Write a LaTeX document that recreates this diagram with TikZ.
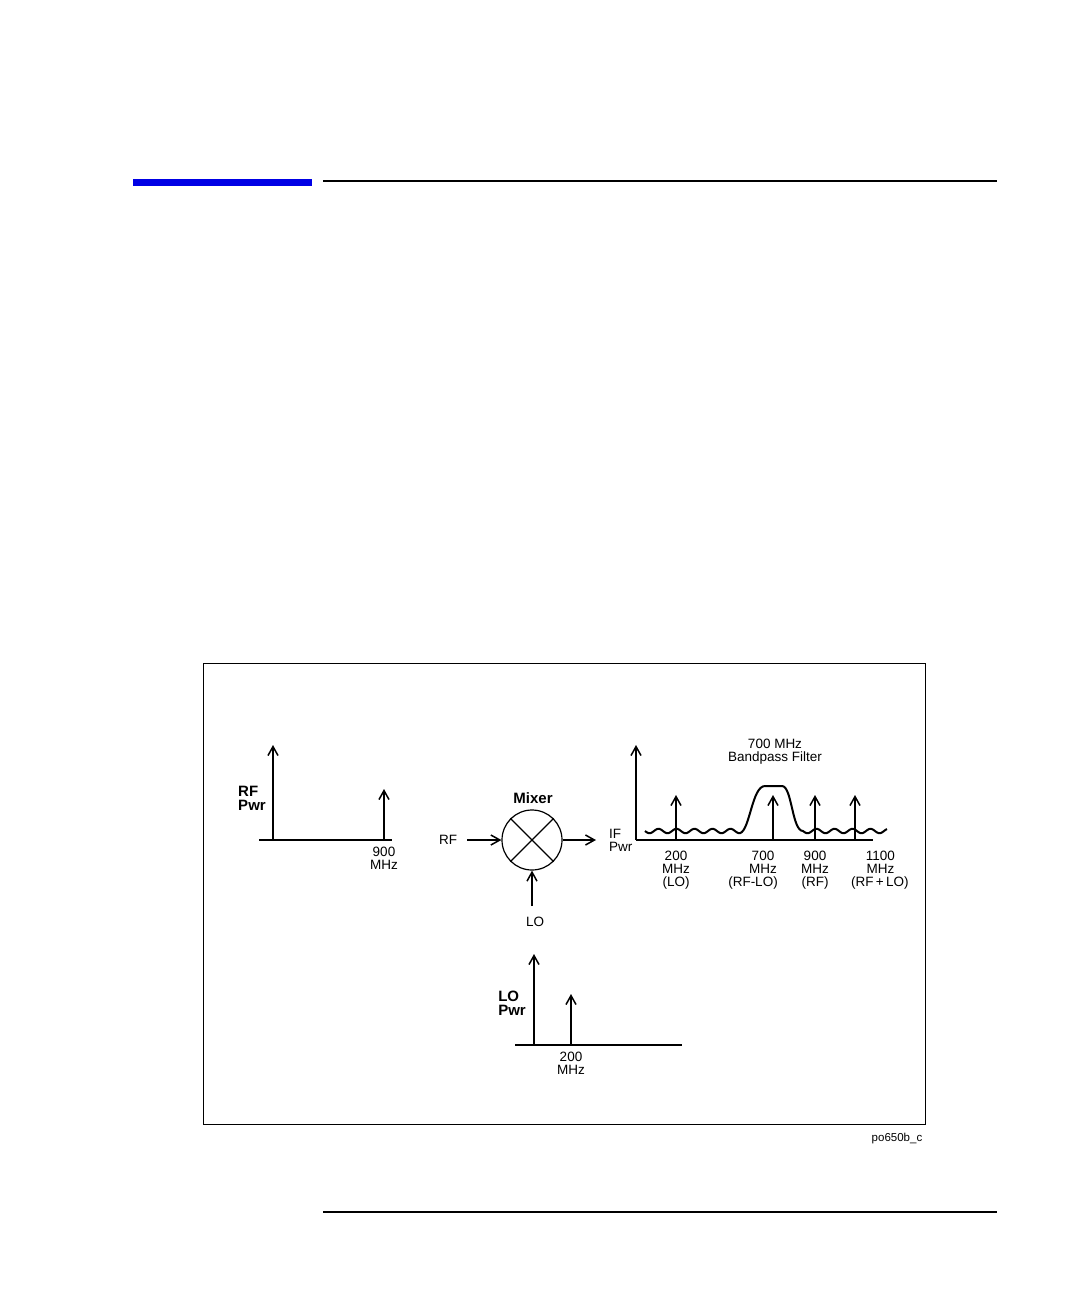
\documentclass[tikz,border=0pt]{standalone}
\usepackage{fontspec}
\setmainfont{Liberation Sans}
\usetikzlibrary{arrows.meta}
\begin{document}
\begin{tikzpicture}[x=1pt,y=-1pt,
  lbl/.style={font=\fontsize{13.5}{13}\selectfont,align=center,inner sep=0pt},
  blbl/.style={font=\fontsize{15}{14}\selectfont\bfseries,align=left,inner sep=0pt},
  ar/.style={line width=1.2pt,-{Straight Barb[length=9pt,width=10pt,line width=1.5pt]}},
  ln/.style={line width=1.2pt}]
\useasboundingbox (0,0) rectangle (1080,1296);
\fill[white] (0,0) rectangle (1080,1296);
\fill[blue!90!black] (133,179) rectangle (312,186);
\draw[line width=1.6pt] (323,181) -- (997,181);
\draw[line width=1.2pt] (323,1212) -- (997,1212);
\draw[line width=0.8pt] (203,663) rectangle (925,1124);
\node[lbl,font=\fontsize{11.5}{11}\selectfont] (code) at (897,1139) {po650b\_c};
% RF plot
\coordinate (ra0) at (273,840); \coordinate (ra1) at (273,745);
\draw[ar] (ra0) -- (ra1);
\coordinate (rb0) at (259,840); \coordinate (rb1) at (392,840);
\draw[ln] (rb0) -- (rb1);
\coordinate (rs0) at (384,840); \coordinate (rs1) at (384,789);
\draw[ar] (rs0) -- (rs1);
\node[blbl] (rfpwr) at (252,798) {RF\\Pwr};
\node[lbl] (f900) at (384,858) {900\\MHz};
% mixer
\node[draw,circle,line width=1.2pt,minimum size=60pt,inner sep=0pt] (mix) at (532,840) {};
\draw[ln] (mix.45) -- (mix.225) (mix.135) -- (mix.315);
\node[blbl] (mixl) at (533,798) {Mixer};
\node[lbl] (rfl) at (448,840) {RF};
\coordinate (rfin) at (467,840);
\draw[ar] (rfin) -- (mix.west);
\coordinate (ifout) at (596,840);
\draw[ar] (mix.east) -- (ifout);
\node[lbl] (lol) at (535,922) {LO};
\coordinate (loin) at (532,906);
\draw[ar] (loin) -- (mix.south);
% IF plot
\coordinate (ia0) at (636,840); \coordinate (ia1) at (636,745);
\draw[ar] (ia0) -- (ia1);
\draw[ln] (636,840) -- (873,840);
\draw[line width=2pt,line join=round]
  plot[domain=645:740,samples=80,smooth] (\x,{831+2.2*sin((\x-645)*20)})
  .. controls (750,830) and (752,786) .. (765,786) -- (782,786) .. controls (792,786) and (792,831) .. (803,831)
  -- plot[domain=803:887,samples=70,smooth] (\x,{831+2.2*sin((\x-803)*20)});
\foreach \x/\n in {676/a,773/b,815/c,855/d} {
  \coordinate (s\n0) at (\x,840); \coordinate (s\n1) at (\x,795);
  \draw[ar] (s\n0) -- (s\n1);
}
\node[lbl,align=left,anchor=west] (ifpwr) at (609,840) {IF\\Pwr};
\node[lbl] (bpf) at (775,752) {700 MHz\\Bandpass Filter};
\node[lbl,anchor=north] (l200) at (676,851) {200\\MHz\\(LO)};
\node[lbl,anchor=north] (l700) at (753,851) {\hspace*{20pt}700\\\hspace*{20pt}MHz\\(RF-LO)};
\node[lbl,anchor=north] (l900) at (815,851) {900\\MHz\\(RF)};
\node[lbl,anchor=north west] (l1100) at (851,851) {\hspace*{1pt}1100\\\hspace*{1pt}MHz\\(RF\,+\,LO)};
% LO plot
\coordinate (la0) at (534,1045); \coordinate (la1) at (534,954);
\draw[ar] (la0) -- (la1);
\draw[ln] (515,1045) -- (682,1045);
\coordinate (ls0) at (571,1045); \coordinate (ls1) at (571,994);
\draw[ar] (ls0) -- (ls1);
\node[blbl] (lopwr) at (512,1003) {LO\\Pwr};
\node[lbl] (f200) at (571,1063) {200\\MHz};
\end{tikzpicture}
\end{document}
